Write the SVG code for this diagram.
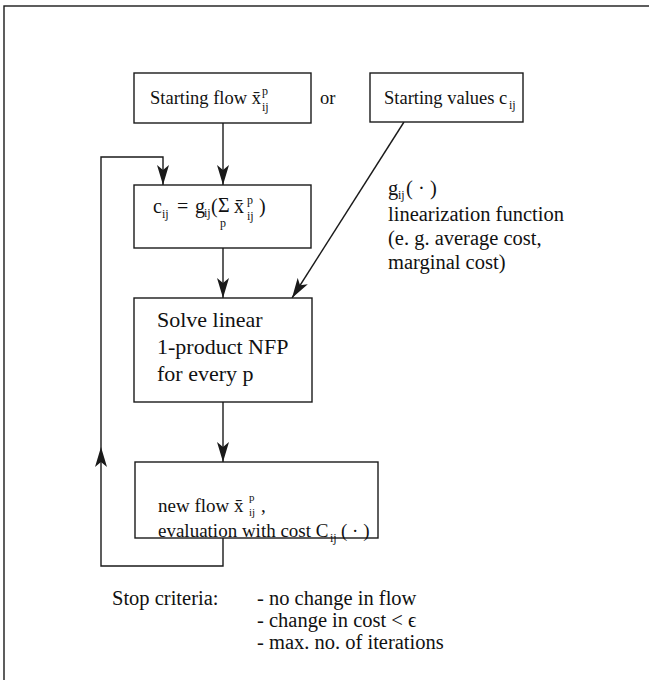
<svg xmlns="http://www.w3.org/2000/svg" width="649" height="680" viewBox="0 0 649 680">
  <style>
    .box { fill: #fff; stroke: #1a1a1a; stroke-width: 1.4; }
    .ln { fill: none; stroke: #1a1a1a; stroke-width: 1.4; }
    text { font-family: "Liberation Serif", "Times New Roman", serif; fill: #111; }
    .t18 { font-size: 18.5px; }
    .t19 { font-size: 19px; }
    .t20 { font-size: 20px; }
    .t205 { font-size: 20.5px; }
    .t22 { font-size: 22px; }
    .s { font-size: 12px; }
    .s11 { font-size: 11px; }
  </style>
  <defs>
    <marker id="ah" viewBox="0 0 20 12" refX="20" refY="6" markerWidth="20" markerHeight="12" markerUnits="userSpaceOnUse" orient="auto">
      <path d="M0,0 L20,6 L0,12 L5,6 z" fill="#1a1a1a"/>
    </marker>
  </defs>

  <rect width="649" height="680" fill="#fff"/>
  <!-- outer frame, running past the right and bottom edges -->
  <rect x="4" y="6" width="700" height="720" class="ln"/>

  <!-- connectors -->
  <g id="connectors">
    <line x1="223" y1="123" x2="223" y2="185" class="ln" marker-end="url(#ah)"/>
    <line x1="223" y1="248" x2="223" y2="298" class="ln" marker-end="url(#ah)"/>
    <line x1="223" y1="402" x2="223" y2="462" class="ln" marker-end="url(#ah)"/>
    <line x1="404" y1="122" x2="292" y2="298" class="ln" marker-end="url(#ah)"/>
    <path d="M223,538 V566 H101 V447" class="ln" marker-end="url(#ah)"/>
    <path d="M101,447 V157 H163 V185" class="ln" marker-end="url(#ah)"/>
  </g>

  <g id="start-flow">
    <rect x="134" y="73" width="177" height="50" class="box"/>
    <text x="150" y="104" class="t18">Starting flow x̄</text>
    <text x="262" y="95" class="s">p</text>
    <text x="262" y="111" class="s">ij</text>
  </g>

  <text x="320" y="104" class="t18">or</text>

  <g id="start-values">
    <rect x="370" y="73" width="153" height="49" class="box"/>
    <text x="384" y="104" class="t18">Starting values c</text>
    <text x="509" y="109" class="s">ij</text>
  </g>

  <g id="cost-update">
    <rect x="134" y="185" width="177" height="63" class="box"/>
    <text x="153" y="213" class="t20">c</text>
    <text x="162" y="218" class="s">ij</text>
    <text x="177" y="213" class="t20">=</text>
    <text x="195" y="213" class="t20">g</text>
    <text x="204" y="217" class="s">ij</text>
    <text x="211" y="213" class="t20">(</text>
    <text x="218" y="212" class="t20">Σ</text>
    <text x="220" y="227" class="s">p</text>
    <text x="234" y="213" class="t20">x̄</text>
    <text x="247" y="204" class="s">p</text>
    <text x="247" y="220" class="s">ij</text>
    <text x="259" y="213" class="t20">)</text>
  </g>

  <g id="linearization-label">
    <text x="388" y="195" class="t205">g</text>
    <text x="398" y="199" class="s">ij</text>
    <text x="406" y="195" class="t205">( · )</text>
    <text x="388" y="221" class="t205">linearization function</text>
    <text x="388" y="245" class="t205">(e. g. average cost,</text>
    <text x="388" y="269" class="t205">marginal cost)</text>
  </g>

  <g id="solve">
    <rect x="134" y="298" width="178" height="104" class="box"/>
    <text x="157" y="327" class="t22">Solve linear</text>
    <text x="157" y="354" class="t22">1-product NFP</text>
    <text x="157" y="381" class="t22">for every p</text>
  </g>

  <g id="new-flow">
    <rect x="135" y="462" width="243" height="76" class="box"/>
    <text x="158" y="512" class="t19">new flow x̄</text>
    <text x="249" y="501" class="s11">p</text>
    <text x="249" y="516" class="s11">ij</text>
    <text x="261" y="512" class="t19">,</text>
    <text x="158" y="537" class="t19">evaluation with cost C</text>
    <text x="330" y="542" class="s">ij</text>
    <text x="341" y="537" class="t19">( · )</text>
  </g>

  <g id="stop-criteria">
    <text x="112" y="605" class="t205">Stop criteria:</text>
    <text x="257" y="605" class="t205">- no change in flow</text>
    <text x="257" y="627" class="t205">- change in cost  &lt; ϵ</text>
    <text x="257" y="649" class="t205">- max. no. of iterations</text>
  </g>
</svg>
